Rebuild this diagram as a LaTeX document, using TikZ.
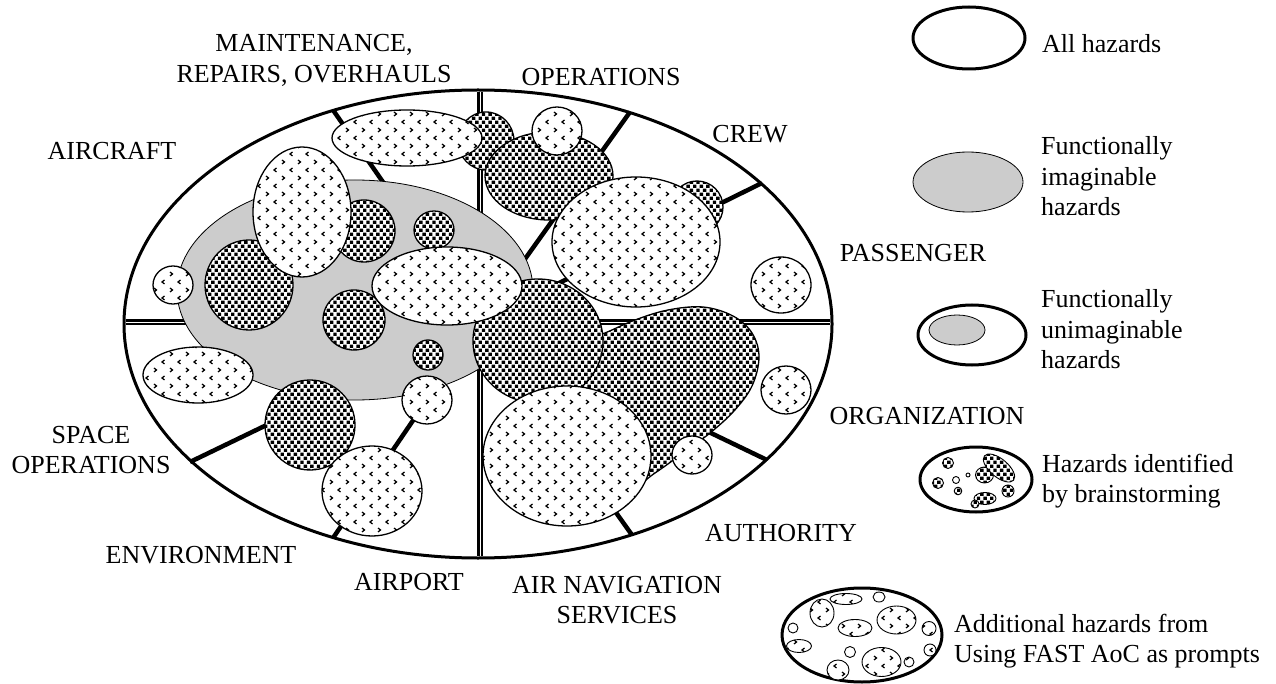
\documentclass[tikz,border=0pt]{standalone}
\usepackage{fontspec}
\setmainfont{Liberation Serif}
\usetikzlibrary{patterns}

\pgfdeclarepatternformonly{darkchk}{\pgfqpoint{-0.5pt}{-0.5pt}}{\pgfqpoint{7pt}{8.5pt}}{\pgfqpoint{6.6pt}{8pt}}{%
  \pgfpathrectangle{\pgfqpoint{0pt}{0pt}}{\pgfqpoint{3.4pt}{3.4pt}}%
  \pgfpathrectangle{\pgfqpoint{3.3pt}{4pt}}{\pgfqpoint{3.4pt}{3.4pt}}%
  \pgfusepath{fill}}

\pgfdeclarepatternformonly{chev}{\pgfqpoint{-1pt}{-1pt}}{\pgfqpoint{17pt}{17pt}}{\pgfqpoint{16pt}{16pt}}{%
  \pgfsetlinewidth{1.25pt}%
  \pgfpathmoveto{\pgfqpoint{4.5pt}{0pt}}\pgfpathlineto{\pgfqpoint{2pt}{2pt}}\pgfpathlineto{\pgfqpoint{4.5pt}{4pt}}%
  \pgfpathmoveto{\pgfqpoint{10pt}{8pt}}\pgfpathlineto{\pgfqpoint{12.5pt}{10pt}}\pgfpathlineto{\pgfqpoint{10pt}{12pt}}%
  \pgfusepath{stroke}}

\definecolor{imag}{RGB}{204,204,204}

\tikzset{
  outerline/.style={draw, line width=3pt},
  imagined/.style={draw, line width=0.8pt, fill=imag},
  lighthz/.style={draw, line width=1.3pt, preaction={fill=white}, pattern=chev, pattern color=black},
  darkhz/.style={draw, line width=1.3pt, preaction={fill=white}, pattern=darkchk, pattern color=black},
  smalllight/.style={lighthz, line width=0.9pt},
  smalldark/.style={darkhz, line width=0.9pt},
  smallplain/.style={draw, line width=0.9pt, fill=white},
  divider/.style={line width=4.5pt},
  dbldiv/.style={line width=2.2pt, double=white, double distance=0.9pt},
  lbl/.style={font=\fontsize{26}{30.5}\selectfont, inner sep=0pt},
}

\begin{document}
\begin{tikzpicture}[x=1pt,y=-1pt]
\useasboundingbox[fill=white] (0,0) rectangle (1276,684);

% ---------- dividers ----------
\coordinate (C) at (480,322);
\coordinate (eMA) at (333,110);
\coordinate (eOC) at (630,112);
\coordinate (eCP) at (762,183);
\coordinate (eOA) at (767,460);
\coordinate (eAN) at (632,535);
\coordinate (eAE) at (333,538);
\coordinate (eES) at (190,462);
\coordinate (eTop) at (480,92);
\coordinate (eBot) at (480,556);
\coordinate (eLeft) at (126,322);
\coordinate (eRight) at (830,322);

\draw[dbldiv] (eTop) -- (eBot);
\draw[dbldiv] (eLeft) -- (eRight);
\foreach \e in {eMA,eOC,eCP,eOA,eAN,eAE,eES}
  \draw[divider] (C) -- (\e);

% ---------- all hazards ----------
\draw[outerline] (478,324) ellipse (354 and 234);

% ---------- functionally imaginable ----------
\path[imagined] (355,290) ellipse (178 and 110);

% ---------- hazard sets ----------
\path[darkhz] plot[smooth cycle, tension=0.6] coordinates {(575,345) (605,333) (635,320) (668,310) (703,307) (733,316) (752,333) (759,357) (752,386) (734,411) (710,433) (683,453) (655,473) (630,488) (600,475) (575,420)};
\path[darkhz] (538,341) ellipse (65 and 62);
\path[lighthz] (567,456) ellipse (84 and 70);
\path[lighthz] (692,455) ellipse (20 and 19);
\path[darkhz] (486,141) ellipse (28 and 29);
\path[lighthz] (407,138) ellipse (75 and 28);
\path[darkhz] (549,176) ellipse (64 and 44);
\path[lighthz] (557,131) ellipse (25 and 24);
\path[darkhz] (697,207) ellipse (26 and 26);
\path[lighthz] (636,242) ellipse (84 and 65);
\path[lighthz] (781,285) ellipse (30 and 28);
\path[lighthz] (786,390) ellipse (25 and 24);
\path[darkhz] (249,285) ellipse (44 and 45);
\path[darkhz] (364,231) ellipse (31 and 31);
\path[lighthz] (302,212) ellipse (49 and 65);
\path[darkhz] (434,230) ellipse (20 and 19);
\path[darkhz] (354,320) ellipse (31 and 30);
\path[lighthz] (447,286) ellipse (75 and 39);
\path[darkhz] (428,355) ellipse (15 and 15);
\path[lighthz] (173,285) ellipse (20 and 19);
\path[lighthz] (198,375) ellipse (55 and 28);
\path[darkhz] (310,425) ellipse (45 and 45);
\path[lighthz] (427,400) ellipse (25 and 24);
\path[lighthz] (372,491) ellipse (50 and 45);

% ---------- domain labels ----------
\node[lbl, anchor=base] (lblMRO) at (314,52) {\begin{tabular}[t]{@{}c@{}}MAINTENANCE,\\REPAIRS, OVERHAULS\end{tabular}};
\node[lbl, anchor=base] (lblOps) at (601,86) {OPERATIONS};
\node[lbl, anchor=base] (lblCrew) at (750,143) {CREW};
\node[lbl, anchor=base] (lblPass) at (913,262) {PASSENGER};
\node[lbl, anchor=base] (lblOrg) at (927,424) {ORGANIZATION};
\node[lbl, anchor=base] (lblAuth) at (781,541) {AUTHORITY};
\node[lbl, anchor=base] (lblANS) at (617,593) {\begin{tabular}[t]{@{}c@{}}AIR NAVIGATION\\SERVICES\end{tabular}};
\node[lbl, anchor=base] (lblAirport) at (409,590) {AIRPORT};
\node[lbl, anchor=base] (lblEnv) at (201,563) {ENVIRONMENT};
\node[lbl, anchor=base] (lblSpace) at (91,443) {\begin{tabular}[t]{@{}c@{}}SPACE\\OPERATIONS\end{tabular}};
\node[lbl, anchor=base] (lblAircraft) at (112,160) {AIRCRAFT};

% ---------- legend ----------
\draw[outerline] (969,38) ellipse (56 and 31);
\node[lbl, anchor=base west] (legAll) at (1042,53) {All hazards};

\path[imagined] (968,182) ellipse (55 and 30);
\node[lbl, anchor=base west] (legImag) at (1041,155) {\begin{tabular}[t]{@{}l@{}}Functionally\\imaginable\\hazards\end{tabular}};

\draw[outerline] (972,335) ellipse (54 and 30);
\path[imagined] (957,330) ellipse (28 and 15);
\node[lbl, anchor=base west] (legUnimag) at (1041,308) {\begin{tabular}[t]{@{}l@{}}Functionally\\unimaginable\\hazards\end{tabular}};

\draw[outerline] (976,479.5) ellipse (56 and 32.5);
\path[smalldark] (948,463) circle (5.5);
\path[smalldark] (938,483) circle (5.5);
\path[smallplain] (956,480) circle (3.5);
\path[smalldark] (958,491) circle (3.8);
\path[smallplain] (968,475) circle (2);
\path[smalldark] (984.5,475) ellipse (9 and 8);
\path[smalldark, rotate around={-40:(999,468)}] (999,468) ellipse (19 and 9);
\path[smalldark] (1008,491) circle (6);
\path[smalldark] (985,498.5) ellipse (11 and 6);
\path[smalldark] (975,504) circle (4);
\node[lbl, anchor=base west] (legBrain) at (1042,472) {\begin{tabular}[t]{@{}l@{}}Hazards identified\\by brainstorming\end{tabular}};

\draw[outerline] (862,635) ellipse (80 and 47);
\path[smalllight] (846,599) ellipse (16 and 5.5);
\path[smallplain] (879,597) ellipse (6 and 5);
\path[smalllight] (822,613) ellipse (12 and 14);
\path[smallplain] (793,628) circle (5);
\path[smalllight] (855,628) ellipse (17 and 8.5);
\path[smalllight] (896.5,620) ellipse (19.5 and 14);
\path[smalllight] (929,628.5) circle (7);
\path[smalllight] (799,646) ellipse (12.5 and 6.5);
\path[smallplain] (850,652) circle (5.5);
\path[smalllight] (881.5,662) ellipse (19.5 and 14.5);
\path[smalllight] (930,650) circle (6);
\path[smalllight] (909,662) circle (5);
\path[smalllight] (838,670) ellipse (11 and 10);
\node[lbl, anchor=base west] (legAdd) at (954,632) {\begin{tabular}[t]{@{}l@{}}Additional hazards from\\Using FAST AoC as prompts\end{tabular}};
\end{tikzpicture}
\end{document}
